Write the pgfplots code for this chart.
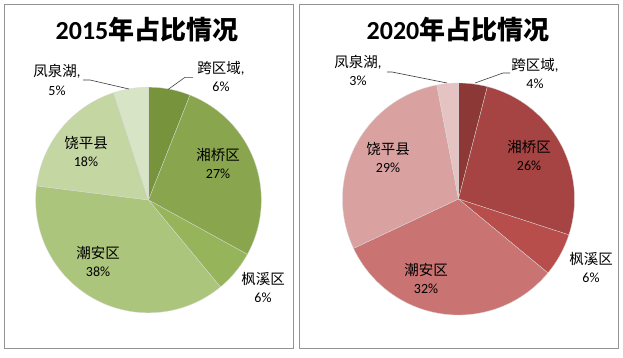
\documentclass[border=0pt]{standalone}
\usepackage{pgfplots}
\pgfplotsset{compat=1.18}
\usepackage{fontspec}
\setmainfont{Carlito}
\newfontfamily\cjk{Noto Sans CJK SC}
% olive shades (2015)
\definecolor{g1}{HTML}{77933C}
\definecolor{g2}{HTML}{89A54E}
\definecolor{g3}{HTML}{96B55A}
\definecolor{g4}{HTML}{ABC57C}
\definecolor{g5}{HTML}{C4D6A2}
\definecolor{g6}{HTML}{D8E4C6}
% red shades (2020)
\definecolor{r1}{HTML}{8C3836}
\definecolor{r2}{HTML}{A54442}
\definecolor{r3}{HTML}{B84E4B}
\definecolor{r4}{HTML}{C97472}
\definecolor{r5}{HTML}{D9A2A1}
\definecolor{r6}{HTML}{E5C3C3}
% #1 cumulative percent before slice, #2 slice percent, #3 colour
\newcommand\slice[3]{%
  \addplot[fill=#3, draw=white!85!black, line width=0.3pt, domain={90-3.6*(#1+#2)}:{90-3.6*#1}, samples=60]
    ({cos(x)},{sin(x)}) -- (axis cs:0,0) -- cycle;}
% pixel coordinates (y down) -> pt (y up)
\newcommand\px[2]{({#1},{357-(#2)})}
\newcommand\lab[4]{%
  \node[font=\fontsize{14.5}{14.5}\selectfont, anchor=base] at \px{#1}{#2} {#3};
  \node[font=\fontsize{14}{14}\selectfont, anchor=base] at \px{#1}{#2+18} {#4};}
\begin{document}
\begin{tikzpicture}[x=1pt,y=1pt]
\fill[white] (0,0) rectangle (623,357);
\draw[gray!85, line width=0.8pt] \px{4.5}{4.5} rectangle \px{293.5}{348.5};
\draw[gray!85, line width=0.8pt] \px{299.5}{4.5} rectangle \px{618.5}{348.5};
% ---------- 2015 ----------
\begin{axis}[at={(148.5pt,157pt)}, anchor=center, scale only axis, width=225.6pt, height=225.6pt,
  xmin=-1, xmax=1, ymin=-1, ymax=1, hide axis, clip=false]
\slice{0}{6}{g1}   % 跨区域
\slice{6}{27}{g2}  % 湘桥区
\slice{33}{6}{g3}  % 枫溪区
\slice{39}{38}{g4} % 潮安区
\slice{77}{18}{g5} % 饶平县
\slice{95}{5}{g6}  % 凤泉湖
\end{axis}
% ---------- 2020 ----------
\begin{axis}[at={(458.5pt,158pt)}, anchor=center, scale only axis, width=232pt, height=232pt,
  xmin=-1, xmax=1, ymin=-1, ymax=1, hide axis, clip=false]
\slice{0}{4}{r1}   % 跨区域
\slice{4}{26}{r2}  % 湘桥区
\slice{30}{6}{r3}  % 枫溪区
\slice{36}{32}{r4} % 潮安区
\slice{68}{29}{r5} % 饶平县
\slice{97}{3}{r6}  % 凤泉湖
\end{axis}
% titles
\node[font=\fontsize{26}{26}\selectfont\bfseries, anchor=base] at \px{147}{40} {2015{\cjk\bfseries 年占比情况}};
\node[font=\fontsize{26}{26}\selectfont\bfseries, anchor=base] at \px{458}{40} {2020{\cjk\bfseries 年占比情况}};
% leader lines
\draw[black!75, line width=0.6pt] \px{168.3}{89.3} -- \px{185}{77.3} -- \px{193}{77.3};
\draw[black!75, line width=0.6pt] \px{83}{80} -- \px{90}{80} -- \px{129}{89};
\draw[black!75, line width=0.6pt] \px{475}{83} -- \px{503}{73} -- \px{510}{73};
\draw[black!75, line width=0.6pt] \px{387}{72} -- \px{392}{72} -- \px{447}{83};
% labels 2015
\lab{221}{73}{{\cjk 跨区域},}{6\%}
\lab{57}{77}{{\cjk 凤泉湖},}{5\%}
\lab{218}{160}{\cjk 湘桥区}{27\%}
\lab{263}{284}{\cjk 枫溪区}{6\%}
\lab{98}{258}{\cjk 潮安区}{38\%}
\lab{86}{148}{\cjk 饶平县}{18\%}
% labels 2020
\lab{535}{70}{{\cjk 跨区域},}{4\%}
\lab{358}{67}{{\cjk 凤泉湖},}{3\%}
\lab{529}{152}{\cjk 湘桥区}{26\%}
\lab{591}{264}{\cjk 枫溪区}{6\%}
\lab{426}{275}{\cjk 潮安区}{32\%}
\lab{388}{154}{\cjk 饶平县}{29\%}
\end{tikzpicture}
\end{document}
